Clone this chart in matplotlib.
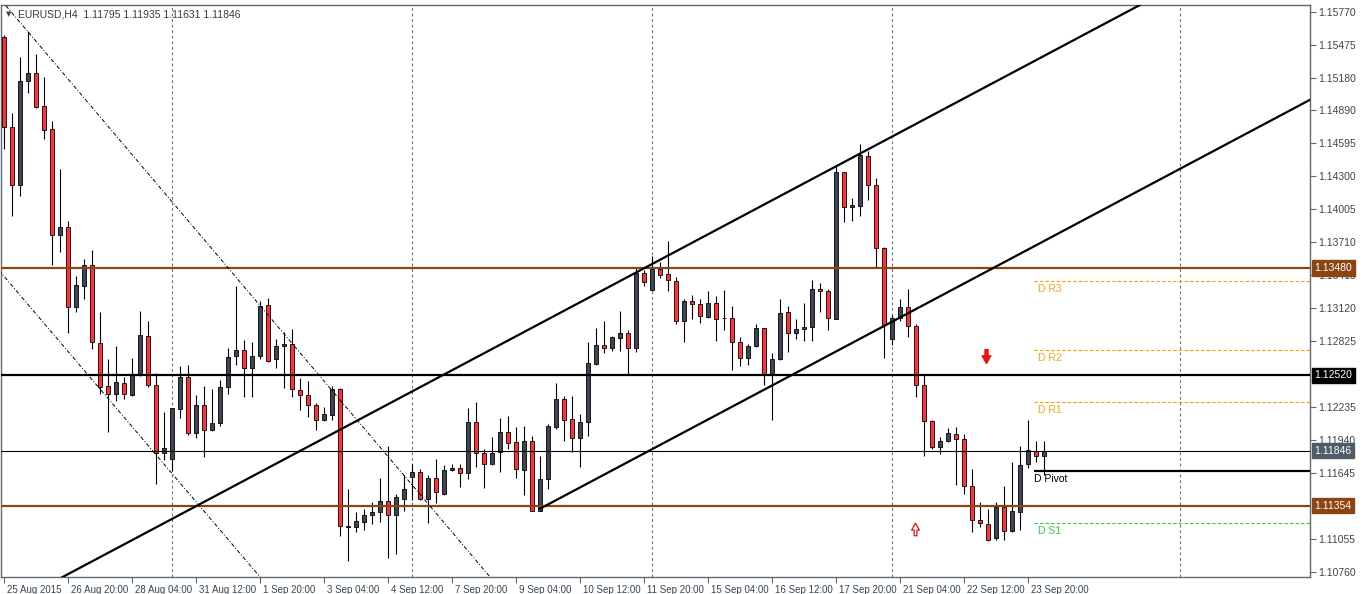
import numpy as np
import matplotlib
matplotlib.use("Agg")
import matplotlib.pyplot as plt
import matplotlib.transforms as mtransforms
from matplotlib.path import Path

plt.rcParams['font.family'] = ['Liberation Sans', 'DejaVu Sans']

# EURUSD H4, one value per bar (25 Aug 2015 12:00 -> 24 Sep 2015 04:00)
opens = [1.15549, 1.14742, 1.14220, 1.15152, 1.15229, 1.14927, 1.14721, 1.13779, 1.13847, 1.13127,
         1.13322, 1.13504, 1.12811, 1.12424, 1.12350, 1.12451, 1.12346, 1.12528, 1.12868, 1.12434,
         1.11822, 1.11771, 1.12219, 1.12505, 1.12000, 1.12252, 1.12027, 1.12094, 1.12414, 1.12690,
         1.12743, 1.12589, 1.12696, 1.13150, 1.12663, 1.12780, 1.12800, 1.12387, 1.12343, 1.12252,
         1.12118, 1.12168, 1.12397, 1.11176, 1.11159, 1.11209, 1.11270, 1.11294, 1.11394, 1.11270,
         1.11418, 1.11613, 1.11653, 1.11411, 1.11606, 1.11462, 1.11674, 1.11690, 1.11647, 1.12101,
         1.11825, 1.11724, 1.11832, 1.12010, 1.11923, 1.11674, 1.11929, 1.11310, 1.11590, 1.12057,
         1.12306, 1.12128, 1.11956, 1.12101, 1.12622, 1.12790, 1.12767, 1.12858, 1.12901, 1.12767,
         1.13436, 1.13285, 1.13470, 1.13423, 1.13362, 1.13002, 1.13184, 1.13154, 1.13043, 1.13167,
         1.13030, 1.13033, 1.12814, 1.12673, 1.12780, 1.12942, 1.12528, 1.12663, 1.13087, 1.12898,
         1.12932, 1.12949, 1.13288, 1.13272, 1.13026, 1.14338, 1.14025, 1.14035, 1.14479, 1.14220,
         1.13658, 1.12841, 1.13036, 1.13134, 1.12959, 1.12430, 1.12111, 1.11875, 1.11933, 1.11993,
         1.11949, 1.11529, 1.11226, 1.11193, 1.11065, 1.11344, 1.11125, 1.11300, 1.11724, 1.11842,
         1.11795]
highs = [1.15566, 1.14869, 1.15364, 1.15599, 1.15398, 1.15189, 1.14792, 1.14365, 1.13901, 1.13406,
         1.13564, 1.13645, 1.13083, 1.12663, 1.12784, 1.12505, 1.12679, 1.13097, 1.13006, 1.12545,
         1.12192, 1.12232, 1.12605, 1.12616, 1.12346, 1.12427, 1.12394, 1.12478, 1.12764, 1.13319,
         1.12838, 1.12814, 1.13184, 1.13208, 1.12848, 1.12908, 1.12935, 1.12494, 1.12471, 1.12269,
         1.12235, 1.12427, 1.12410, 1.11505, 1.11294, 1.11327, 1.11384, 1.11603, 1.11889, 1.11462,
         1.11630, 1.11731, 1.11680, 1.11630, 1.11775, 1.11721, 1.11724, 1.11724, 1.12229, 1.12279,
         1.11865, 1.11966, 1.12134, 1.12158, 1.12060, 1.12067, 1.11976, 1.11798, 1.12084, 1.12454,
         1.12336, 1.12336, 1.12175, 1.12817, 1.12942, 1.13002, 1.12875, 1.13100, 1.12925, 1.13480,
         1.13463, 1.13591, 1.13531, 1.13722, 1.13396, 1.13201, 1.13238, 1.13204, 1.13275, 1.13228,
         1.13285, 1.13137, 1.12864, 1.12797, 1.12976, 1.12945, 1.12716, 1.13201, 1.13137, 1.13023,
         1.13167, 1.13372, 1.13346, 1.13288, 1.14405, 1.14340, 1.14102, 1.14590, 1.14523, 1.14287,
         1.13665, 1.13060, 1.13204, 1.13288, 1.12976, 1.12528, 1.12118, 1.11966, 1.12050, 1.12060,
         1.11993, 1.11680, 1.11388, 1.11327, 1.11388, 1.11529, 1.11748, 1.11889, 1.12124, 1.11933,
         1.11935]
lows = [1.14546, 1.13944, 1.14126, 1.15044, 1.14910, 1.14634, 1.13510, 1.13625, 1.12901, 1.13087,
        1.13204, 1.12757, 1.12353, 1.12017, 1.12293, 1.12309, 1.12336, 1.12515, 1.12420, 1.11546,
        1.11764, 1.11664, 1.12134, 1.11990, 1.11956, 1.11791, 1.12023, 1.12067, 1.12353, 1.12616,
        1.12326, 1.12326, 1.12663, 1.12636, 1.12582, 1.12410, 1.12326, 1.12212, 1.12151, 1.12034,
        1.12111, 1.12124, 1.11082, 1.10856, 1.11115, 1.11135, 1.11186, 1.11209, 1.10883, 1.10923,
        1.11304, 1.11401, 1.11401, 1.11203, 1.11378, 1.11452, 1.11660, 1.11522, 1.11596, 1.11697,
        1.11512, 1.11721, 1.11653, 1.11865, 1.11606, 1.11452, 1.11304, 1.11305, 1.11505, 1.12044,
        1.11933, 1.11832, 1.11704, 1.11973, 1.12616, 1.12723, 1.12740, 1.12740, 1.12528, 1.12733,
        1.13319, 1.13278, 1.13389, 1.13278, 1.12976, 1.12817, 1.13026, 1.12992, 1.13033, 1.12831,
        1.12925, 1.12572, 1.12605, 1.12616, 1.12774, 1.12437, 1.12124, 1.12660, 1.12730, 1.12848,
        1.12831, 1.12831, 1.13087, 1.12925, 1.13020, 1.13890, 1.13901, 1.13941, 1.14092, 1.13490,
        1.12679, 1.12790, 1.13009, 1.12864, 1.12326, 1.11798, 1.11865, 1.11815, 1.11923, 1.11536,
        1.11462, 1.11119, 1.11166, 1.11034, 1.11051, 1.11051, 1.11115, 1.11135, 1.11690, 1.11741,
        1.11631]
closes = [1.14742, 1.14220, 1.15152, 1.15226, 1.14920, 1.14718, 1.13779, 1.13847, 1.13127, 1.13329,
          1.13504, 1.12814, 1.12420, 1.12350, 1.12457, 1.12350, 1.12528, 1.12881, 1.12430, 1.11822,
          1.11872, 1.12225, 1.12505, 1.12000, 1.12252, 1.12027, 1.12091, 1.12414, 1.12683, 1.12743,
          1.12589, 1.12690, 1.13137, 1.12649, 1.12780, 1.12800, 1.12394, 1.12343, 1.12252, 1.12118,
          1.12171, 1.12397, 1.11176, 1.11159, 1.11216, 1.11270, 1.11300, 1.11394, 1.11270, 1.11428,
          1.11502, 1.11653, 1.11411, 1.11606, 1.11472, 1.11674, 1.11694, 1.11647, 1.12101, 1.11825,
          1.11724, 1.11825, 1.12010, 1.11916, 1.11680, 1.11929, 1.11310, 1.11590, 1.12064, 1.12306,
          1.12124, 1.11956, 1.12101, 1.12629, 1.12790, 1.12767, 1.12864, 1.12901, 1.12767, 1.13436,
          1.13352, 1.13473, 1.13420, 1.13369, 1.13002, 1.13187, 1.13154, 1.13049, 1.13167, 1.13026,
          1.13030, 1.12814, 1.12673, 1.12780, 1.12942, 1.12528, 1.12663, 1.13076, 1.12901, 1.12932,
          1.12949, 1.13288, 1.13272, 1.13033, 1.14338, 1.14025, 1.14042, 1.14489, 1.14220, 1.13658,
          1.12969, 1.13036, 1.13127, 1.12959, 1.12437, 1.12111, 1.11875, 1.11933, 1.12007, 1.11949,
          1.11529, 1.11226, 1.11199, 1.11051, 1.11344, 1.11125, 1.11304, 1.11721, 1.11849, 1.11798,
          1.11846]

time_labels = ["25 Aug 2015", "26 Aug 20:00", "28 Aug 04:00", "31 Aug 12:00", "1 Sep 20:00",
               "3 Sep 04:00", "4 Sep 12:00", "7 Sep 20:00", "9 Sep 04:00", "10 Sep 12:00",
               "11 Sep 20:00", "15 Sep 04:00", "16 Sep 12:00", "17 Sep 20:00", "21 Sep 04:00",
               "22 Sep 12:00", "23 Sep 20:00"]
price_ticks = [1.15770, 1.15475, 1.15180, 1.14890, 1.14595, 1.14300, 1.14005, 1.13710, 1.13415,
               1.13120, 1.12825, 1.12235, 1.11940, 1.11645, 1.11055, 1.10760]
week_bars = [21, 51, 81, 111, 147]

# horizontal levels
brown_levels = [1.13480, 1.11354]
black_level = 1.12520
bid = 1.11846

# daily pivots
pivot = 1.11664
r_levels = {"D R1": 1.12281, "D R2": 1.12745, "D R3": 1.13362}
s1 = 1.11200
pivot_start = 128.8

# trend lines (bar, price) anchors
upper_chan = [(63.25, 1.12841), (143.25, 1.15881)]
lower_chan = [(67.0, 1.11327), (163.25, 1.14985)]
dash_top = [(0.54, 1.15801), (60.5, 1.10738)]
dash_low = [(0.125, 1.13396), (31.75, 1.10738)]

sell_arrow = (122.8, 1.12689)
buy_arrow = (113.9, 1.11149)

BULL = '#3b4650'
BEAR = '#ff3038'
BROWN = '#8b4513'
AXC = '#5d6a75'
TXT = '#3a4550'

fig = plt.figure(figsize=(13.62, 5.94), dpi=100)
ax = fig.add_axes([1 / 1362, 17 / 594, 1309 / 1362, 572 / 594])
ax.set_xlim(-0.375, 163.25)
ax.set_ylim(1.10716, 1.15833)

o = np.array(opens); h = np.array(highs); l = np.array(lows); c = np.array(closes)
x = np.arange(len(o))
up = c >= o
ax.vlines(x, l, h, color='black', lw=0.8, zorder=2)
body_lo = np.minimum(o, c)
body_h = np.maximum(np.abs(c - o), 0.00001)
ax.bar(x, body_h, bottom=body_lo, width=0.62, color=np.where(up, BULL, BEAR),
       edgecolor='black', linewidth=0.6, zorder=3)

# week separators
for b in week_bars:
    ax.axvline(b, color='#707070', lw=0.8, ls=(0, (2.5, 2.5)), zorder=1)

# level lines
for lv in brown_levels:
    ax.axhline(lv, color=BROWN, lw=1.6, zorder=4)
ax.axhline(black_level, color='black', lw=1.6, zorder=4)
ax.axhline(bid, color='black', lw=0.8, zorder=4)


def draw_line(pts, x0, x1, **kw):
    (xa, ya), (xb, yb) = pts
    k = (yb - ya) / (xb - xa)
    xs = np.array([x0, x1])
    ax.plot(xs, ya + k * (xs - xa), **kw)


draw_line(upper_chan, -5, 170, color='black', lw=1.6, zorder=5)
draw_line(lower_chan, lower_chan[0][0], 170, color='black', lw=1.6, zorder=5)
draw_line(dash_top, -1, 80, color='black', lw=0.7, ls=(0, (4, 2, 1, 2)), zorder=5)
draw_line(dash_low, -1, 50, color='black', lw=0.7, ls=(0, (4, 2, 1, 2)), zorder=5)

# pivots
x_end = ax.get_xlim()[1]
ax.hlines(pivot, pivot_start, x_end, color='black', lw=1.6, zorder=5)
ax.annotate("D Pivot", (pivot_start, pivot), xytext=(0, -2), textcoords='offset points',
            va='top', ha='left', fontsize=7.5, color='black')
for name, val in r_levels.items():
    ax.hlines(val, pivot_start, x_end, color='#ff9900', lw=0.8, ls=(0, (3, 2)), zorder=5)
    ax.annotate(name, (pivot_start + 0.5, val), xytext=(0, -2), textcoords='offset points',
                va='top', ha='left', fontsize=7.5, color='#ffa31a')
ax.hlines(s1, pivot_start, x_end, color='#33cc33', lw=0.8, ls=(0, (3, 2)), zorder=5)
ax.annotate("D S1", (pivot_start + 0.5, s1), xytext=(0, -2), textcoords='offset points',
            va='top', ha='left', fontsize=7.5, color='#33cc33')

# arrows
down_verts = [(-0.22, 1), (0.22, 1), (0.22, 0.1), (0.62, 0.1), (0, -1), (-0.62, 0.1), (-0.22, 0.1), (-0.22, 1)]
up_verts = [(vx, -vy) for vx, vy in down_verts]
ax.plot(*sell_arrow, marker=Path(down_verts, closed=True), ms=10, color='#ee1111',
        mec='#ee1111', zorder=6)
ax.plot(*buy_arrow, marker=Path(up_verts, closed=True), ms=9, mfc='white',
        mec='#ee1111', mew=0.9, zorder=6)

# header
ax.text(0.004, 0.99, "\u25bc", transform=ax.transAxes, fontsize=5, color='#444444',
        va='top', ha='left', family='DejaVu Sans')
ax.text(0.013, 0.992, "EURUSD,H4  1.11795 1.11935 1.11631 1.11846", transform=ax.transAxes,
        fontsize=7.5, color='#3a3a3a', va='top', ha='left')

# axes styling
for sp in ax.spines.values():
    sp.set_color(AXC)
    sp.set_linewidth(1)
ax.yaxis.tick_right()
ax.set_yticks(price_ticks)
ax.set_yticklabels([f"{p:.5f}" for p in price_ticks])
ax.set_xticks(np.arange(0, 8 * len(time_labels), 8))
ax.set_xticklabels(time_labels, ha='left')
ax.tick_params(axis='both', direction='out', length=4, width=0.8, color=AXC,
               labelcolor=TXT, pad=2)
ax.tick_params(axis='y', labelsize=7.5)
ax.tick_params(axis='x', labelsize=7)
offset = mtransforms.ScaledTranslation(2 / 72, 0, fig.dpi_scale_trans)
for lab in ax.get_xticklabels():
    lab.set_transform(lab.get_transform() + offset)

# price boxes on the axis
tr = mtransforms.blended_transform_factory(ax.transAxes, ax.transData)
boxes = [(brown_levels[0], BROWN), (black_level, 'black'), (bid, '#4f5b66'), (brown_levels[1], BROWN)]
for val, col in boxes:
    ax.text(1.0035, val, f"{val:.5f}", transform=tr, fontsize=7.5, color='white', va='center',
            ha='left', clip_on=False, zorder=10,
            bbox=dict(boxstyle='square,pad=0.25', fc=col, ec=col))

fig.savefig("out.png", dpi=100, facecolor='white')
